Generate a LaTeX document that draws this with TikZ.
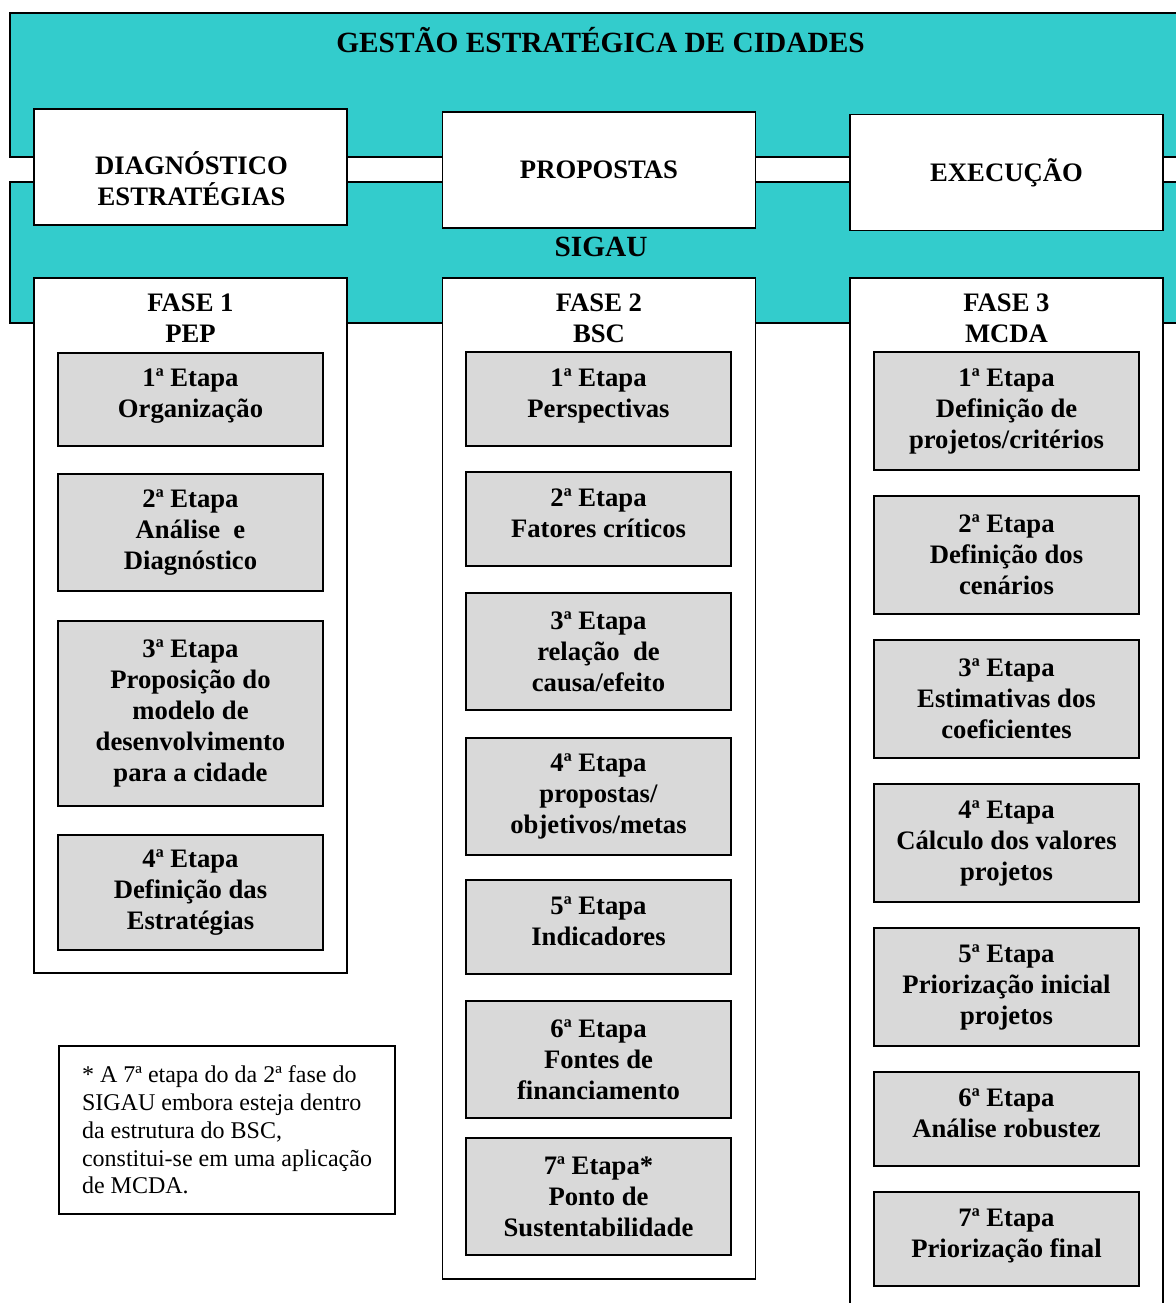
\documentclass[tikz,border=0pt]{standalone}
\usepackage{fontspec}
\setmainfont{Liberation Serif}
\usetikzlibrary{positioning}
\definecolor{sigauteal}{RGB}{51,204,204}
\definecolor{etapagray}{RGB}{217,217,217}

\tikzset{
  band/.style={draw=black, line width=1.2pt, fill=sigauteal},
  bandtext/.style={inner sep=0pt, anchor=base, font=\fontsize{22}{26}\selectfont\bfseries},
  headbox/.style={draw=black, line width=1.2pt, fill=white, minimum width=234.75pt, minimum height=87pt, align=center, font=\fontsize{20}{23.25}\selectfont\bfseries},
  headtext/.style={inner sep=0pt, align=center, font=\fontsize{20}{23.25}\selectfont\bfseries},
  phasebox/.style={draw=black, line width=1.2pt, fill=white, minimum width=234.75pt},
  phasetext/.style={inner sep=0pt, align=center, font=\fontsize{20}{23.25}\selectfont\bfseries},
  etapa/.style={draw=black, line width=1.2pt, fill=etapagray, minimum width=198.75pt, inner sep=0pt, align=center, font=\fontsize{20}{23.25}\selectfont\bfseries},
  etapashort/.style={etapa, minimum height=70.5pt, execute at end node={\rule[-9pt]{0pt}{0pt}}},
  notebox/.style={draw=black, line width=1.2pt, fill=white, minimum width=252pt, minimum height=126pt, align=left, font=\fontsize{18}{20.8}\selectfont}
}

\begin{document}
\begin{tikzpicture}[x=0.75pt, y=-0.75pt]
    \useasboundingbox (0,0) rectangle (1176,1303);

    % faixas
    \draw[band] (10,13) rectangle (1190,157);
    \draw[band] (10,182) rectangle (1190,323);
    \node[bandtext] (gestao) at (600.5,52) {GESTÃO ESTRATÉGICA DE CIDADES};
    \node[bandtext] (sigau) at (601,256) {SIGAU};

    % cabecalhos
    \node[headbox] (hdiag) at (190.5,167) {};
    \node[headtext] (hdiagt) at (191.5,178.5) {DIAGNÓSTICO\\ESTRATÉGIAS};
    \node[headbox] (hprop) at (599,170) {PROPOSTAS};
    \node[headbox] (hexec) at (1006.5,172.5) {EXECUÇÃO};

    % fases
    \node[phasebox, minimum height=521.25pt] (fase1) at (190.5,625.5) {};
    \node[phasebox, minimum height=750.75pt] (fase2) at (599,778.5) {};
    \node[phasebox, minimum height=781.5pt] (fase3) at (1006.5,799) {};
    \node[phasetext, below=12.5pt of fase1.north] (fase1t) {FASE 1\\PEP};
    \node[phasetext, below=12.5pt of fase2.north] (fase2t) {FASE 2\\BSC};
    \node[phasetext, below=12.5pt of fase3.north] (fase3t) {FASE 3\\MCDA};

    % fase 1 - PEP
    \node[etapashort, minimum height=69.75pt] (pep1) at (190.5,399.5) {1ª Etapa\\Organização};
    \node[etapa, minimum height=87.75pt] (pep2) at (190.5,532.5) {2ª Etapa\\Análise\ \ e\\Diagnóstico};
    \node[etapa, minimum height=138.75pt] (pep3) at (190.5,713.5) {3ª Etapa\\Proposição do\\modelo de\\desenvolvimento\\para a cidade};
    \node[etapa, minimum height=86.25pt] (pep4) at (190.5,892.5) {4ª Etapa\\Definição das\\Estratégias};

    % fase 2 - BSC
    \node[etapashort] (bsc1) at (598.5,399) {1ª Etapa\\Perspectivas};
    \node[etapashort] (bsc2) at (598.5,519) {2ª Etapa\\Fatores críticos};
    \node[etapa, minimum height=87.75pt] (bsc3) at (598.5,651.5) {3ª Etapa\\relação\ \ de\\causa/efeito};
    \node[etapa, minimum height=87.75pt] (bsc4) at (598.5,796.5) {4ª Etapa\\propostas/\\objetivos/metas};
    \node[etapashort] (bsc5) at (598.5,927) {5ª Etapa\\Indicadores};
    \node[etapa, minimum height=87.75pt] (bsc6) at (598.5,1059.5) {6ª Etapa\\Fontes de\\financiamento};
    \node[etapa, minimum height=87.75pt] (bsc7) at (598.5,1196.5) {7ª Etapa*\\Ponto de\\Sustentabilidade};

    % fase 3 - MCDA
    \node[etapa, minimum height=88.5pt] (mcda1) at (1006.5,411) {1ª Etapa\\Definição de\\projetos/critérios};
    \node[etapa, minimum height=88.5pt] (mcda2) at (1006.5,555) {2ª Etapa\\Definição dos\\cenários};
    \node[etapa, minimum height=88.5pt] (mcda3) at (1006.5,699) {3ª Etapa\\Estimativas dos\\coeficientes};
    \node[etapa, minimum height=88.5pt] (mcda4) at (1006.5,843) {4ª Etapa\\Cálculo dos valores\\projetos};
    \node[etapa, minimum height=88.5pt] (mcda5) at (1006.5,987) {5ª Etapa\\Priorização inicial\\projetos};
    \node[etapashort] (mcda6) at (1006.5,1119) {6ª Etapa\\Análise robustez};
    \node[etapashort] (mcda7) at (1006.5,1239) {7ª Etapa\\Priorização final};

    % nota
    \node[notebox] (nota) at (227,1130) {* A 7ª etapa do da 2ª fase do\\SIGAU embora esteja dentro\\da estrutura do BSC,\\constitui-se em uma aplicação\\de MCDA.};
\end{tikzpicture}
\end{document}
